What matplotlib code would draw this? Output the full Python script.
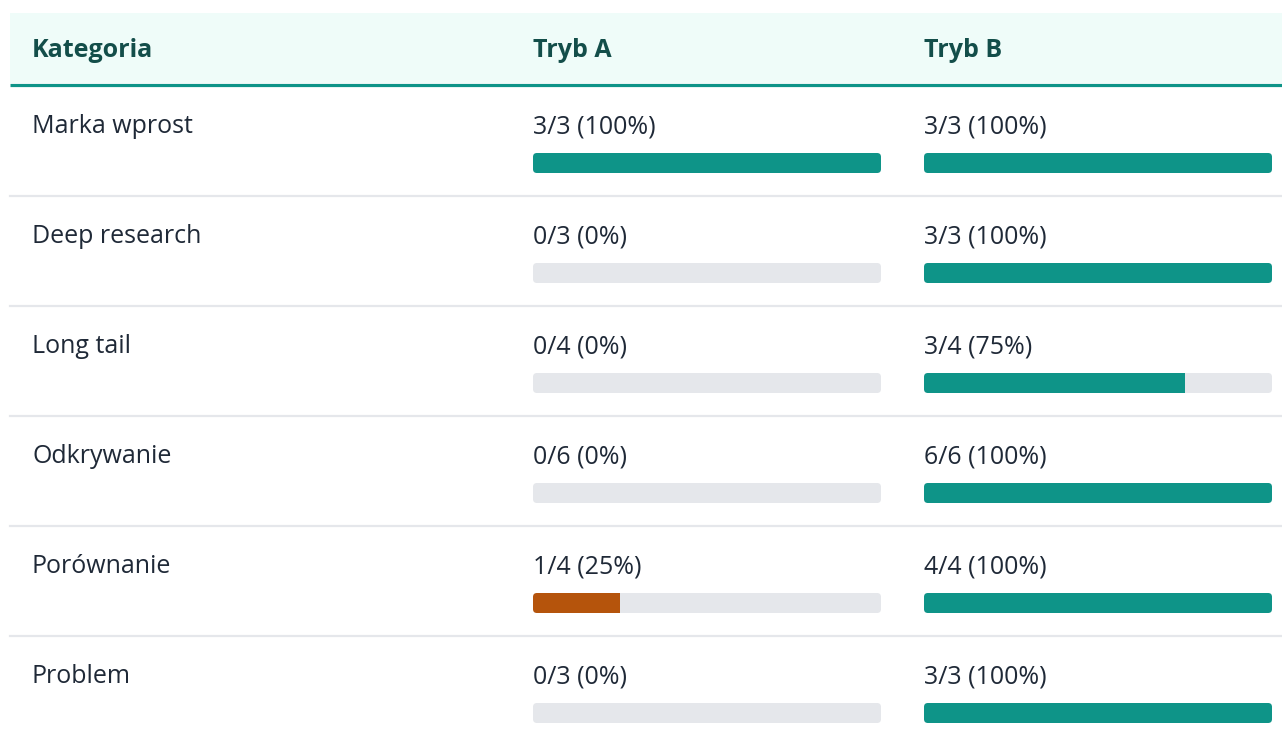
import matplotlib
matplotlib.use("Agg")
import matplotlib.pyplot as plt
from matplotlib.patches import Rectangle, FancyBboxPatch

plt.rcParams['font.family'] = ['Open Sans', 'Noto Sans', 'DejaVu Sans']

# data
categories = ["Marka wprost", "Deep research", "Long tail", "Odkrywanie", "Porównanie", "Problem"]
columns = ["Kategoria", "Tryb A", "Tryb B"]
hits_a = [3, 0, 0, 0, 1, 0]
total_a = [3, 3, 4, 6, 4, 3]
hits_b = [3, 3, 3, 6, 4, 3]
total_b = [3, 3, 4, 6, 4, 3]

TEAL = "#0e9488"
ORANGE = "#b5540c"
TRACK = "#e5e7eb"
HEAD_BG = "#effcf9"
HEAD_TXT = "#134e4a"
BODY_TXT = "#1f2937"

W, H = 1282, 737
fig = plt.figure(figsize=(W / 100, H / 100), dpi=100)
ax = fig.add_axes([0, 0, 1, 1])
ax.set_xlim(0, W)
ax.set_ylim(H, 0)
ax.axis("off")

# layout (pixels)
left, right = 10, W
head_top, head_bot = 13, 83
row_h = 110
col_x = [32, 533, 924]
bar_w, bar_h = 348, 20
fs = 18

ax.add_patch(Rectangle((left, head_top), right - left, head_bot - head_top,
                       facecolor=HEAD_BG, edgecolor="none"))
ax.plot([left, right], [head_bot + 1.5, head_bot + 1.5], color=TEAL, lw=2.3,
        solid_capstyle="butt")
for x, name in zip(col_x, columns):
    ax.text(x, 57, name, fontsize=fs, fontweight="bold", color=HEAD_TXT,
            va="baseline", ha="left")


def draw_bar(x, y, frac, color):
    track = FancyBboxPatch((x, y), bar_w, bar_h,
                           boxstyle="round,pad=0,rounding_size=4",
                           facecolor=TRACK, edgecolor="none")
    ax.add_patch(track)
    if frac > 0:
        fill = Rectangle((x, y), bar_w * frac, bar_h, facecolor=color,
                         edgecolor="none")
        ax.add_patch(fill)
        fill.set_clip_path(track)


row0 = head_bot + 3
for i, cat in enumerate(categories):
    top = row0 + i * row_h
    ax.text(col_x[0], top + 47, cat, fontsize=fs, color=BODY_TXT,
            va="baseline", ha="left")
    for x, h, t in ((col_x[1], hits_a[i], total_a[i]), (col_x[2], hits_b[i], total_b[i])):
        frac = h / t
        ax.text(x, top + 47, f"{h}/{t} ({round(frac * 100)}%)", fontsize=fs,
                color=BODY_TXT, va="baseline", ha="left")
        color = TEAL if frac >= 0.5 else ORANGE
        draw_bar(x, top + 67, frac, color)
    if i < len(categories) - 1:
        sep = top + row_h - 0.5
        ax.plot([left, right], [sep, sep], color="#e5e7eb", lw=1.6)

fig.savefig("out.png", dpi=100, facecolor="white")
